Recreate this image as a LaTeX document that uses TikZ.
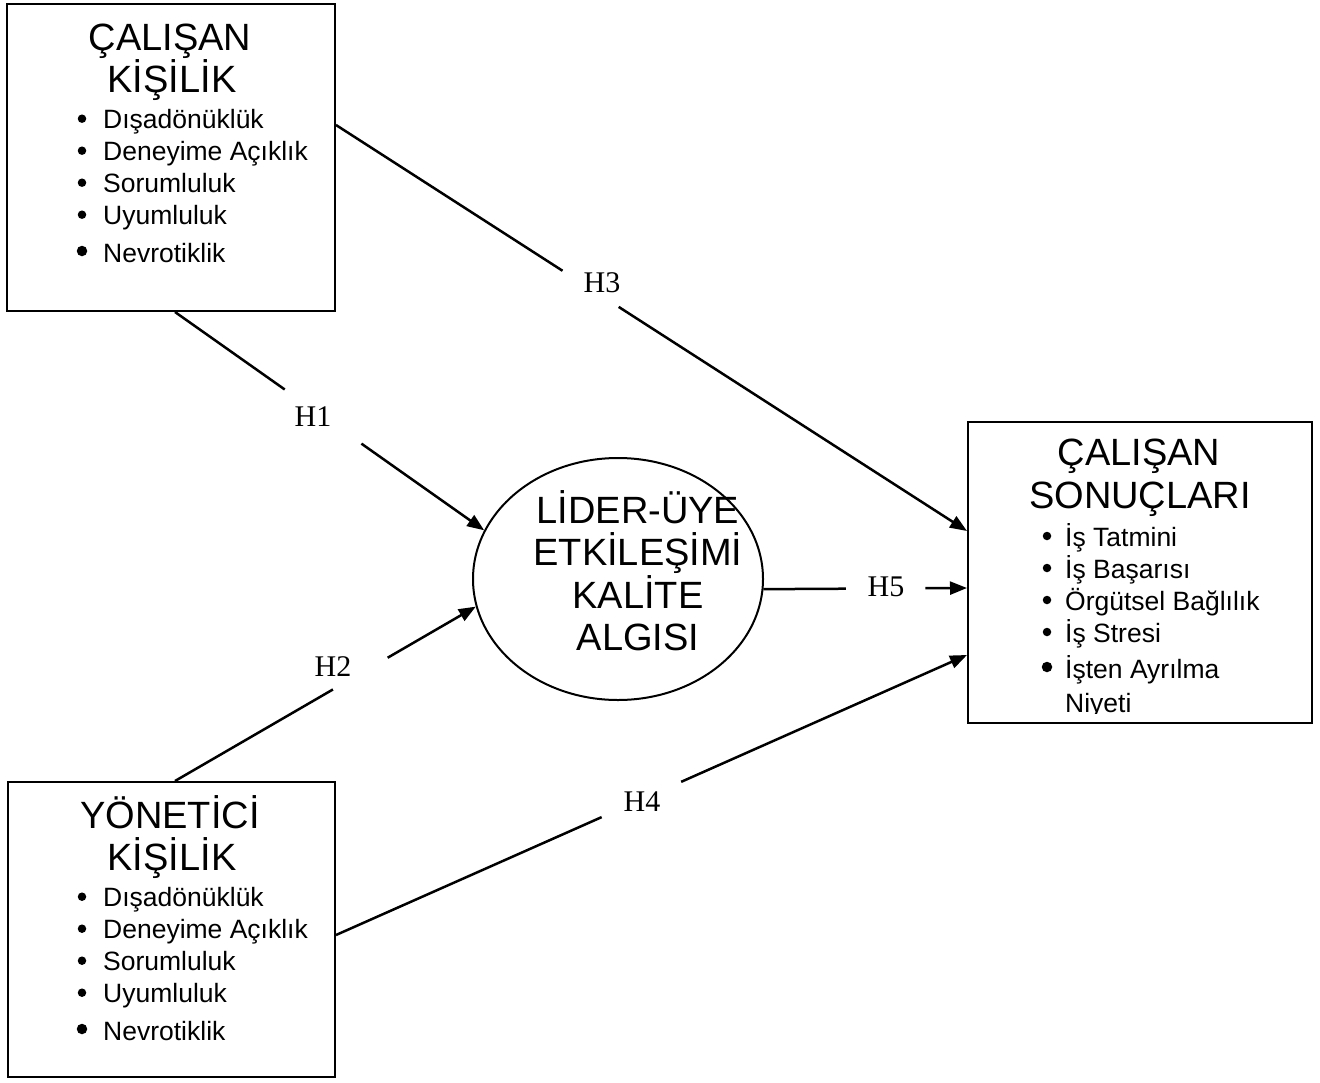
\documentclass[tikz,border=0pt]{standalone}
\usepackage{fontspec}
\setmainfont{Liberation Serif}
\newfontfamily\arial{Liberation Sans}
\usetikzlibrary{arrows.meta,calc,shapes.geometric}
\begin{document}
\begin{tikzpicture}[x=1pt,y=-1pt,
  box/.style={draw, line width=2pt, inner sep=0pt},
  oval/.style={draw, ellipse, line width=2pt, inner sep=0pt},
  ttl/.style={font=\arial\fontsize{38}{42}\selectfont, anchor=base, inner sep=0pt},
  itm/.style={font=\arial\fontsize{26.5}{32}\selectfont, anchor=base west, inner sep=0pt},
  bul/.style={circle, fill, inner sep=0pt, minimum size=8.5pt},
  bigbul/.style={circle, fill, inner sep=0pt, minimum size=10.5pt},
  hyp/.style={font=\fontsize{30}{36}\selectfont, inner sep=0pt},
  link/.style={line width=2.5pt},
  arr/.style={line width=2.5pt, -{Triangle[length=17pt,width=13pt]}}]
\useasboundingbox (0,0) rectangle (1320,1082);

% frames
\node[box, minimum width=328pt, minimum height=307pt] (ck) at (171,157.5) {};
\node[box, minimum width=327pt, minimum height=295pt] (yk) at (171.5,929.5) {};
\node[box, minimum width=344pt, minimum height=301pt] (cs) at (1140,572.5) {};
\node[oval, minimum width=290pt, minimum height=242pt] (lu) at (618,579) {};

% employee personality
\node[ttl] (ck1) at (170,50) {ÇALIŞAN};
\node[ttl] (ck2) at (172,92) {KİŞİLİK};
\node[bul] (ckb1) at (82,118.7) {};
\node[itm] (cki1) at (103,128) {Dışadönüklük};
\node[bul] (ckb2) at (82,150.7) {};
\node[itm] (cki2) at (103,160) {Deneyime Açıklık};
\node[bul] (ckb3) at (82,182.7) {};
\node[itm] (cki3) at (103,192) {Sorumluluk};
\node[bul] (ckb4) at (82,214.7) {};
\node[itm] (cki4) at (103,224) {Uyumluluk};
\node[bigbul] (ckb5) at (82,251) {};
\node[itm] (cki5) at (103,262) {Nevrotiklik};

% manager personality
\node[ttl] (yk1) at (170,828) {YÖNETİCİ};
\node[ttl] (yk2) at (172,870) {KİŞİLİK};
\node[bul] (ykb1) at (82,896.7) {};
\node[itm] (yki1) at (103,906) {Dışadönüklük};
\node[bul] (ykb2) at (82,928.7) {};
\node[itm] (yki2) at (103,938) {Deneyime Açıklık};
\node[bul] (ykb3) at (82,960.7) {};
\node[itm] (yki3) at (103,970) {Sorumluluk};
\node[bul] (ykb4) at (82,992.7) {};
\node[itm] (yki4) at (103,1002) {Uyumluluk};
\node[bigbul] (ykb5) at (82,1029) {};
\node[itm] (yki5) at (103,1040) {Nevrotiklik};

% employee outcomes
\node[ttl] (cs1) at (1139,465) {ÇALIŞAN};
\node[ttl] (cs2) at (1140,508) {SONUÇLARI};
\node[bul] (csb1) at (1047,536) {};
\node[itm] (csi1) at (1065,546) {İş Tatmini};
\node[bul] (csb2) at (1047,568) {};
\node[itm] (csi2) at (1065,578) {İş Başarısı};
\node[bul] (csb3) at (1047,600) {};
\node[itm] (csi3) at (1065,610) {Örgütsel Bağlılık};
\node[bul] (csb4) at (1047,632) {};
\node[itm] (csi4) at (1065,642) {İş Stresi};
\node[bigbul] (csb5) at (1047,667) {};
\node[itm] (csi5) at (1065,678) {İşten Ayrılma};
\begin{scope}
  \clip (1000,690) rectangle (1300,713.5);
  \node[itm] (csi6) at (1065,712) {Niyeti};
\end{scope}

% leader-member exchange
\node[ttl] (lu1) at (638,523) {LİDER-ÜYE};
\node[ttl] (lu2) at (638,565) {ETKİLEŞİMİ};
\node[ttl] (lu3) at (638,608) {KALİTE};
\node[ttl] (lu4) at (638,650) {ALGISI};

% hypothesis labels
\node[hyp] (h1) at (313,417) {H1};
\node[hyp] (h2) at (333,667) {H2};
\node[hyp] (h3) at (602,283) {H3};
\node[hyp] (h4) at (642,802) {H4};
\node[hyp] (h5) at (886,587) {H5};

% connector end points
\coordinate (h1a) at ([xshift=4pt]ck.south);
\coordinate (h1b) at (lu.160);
\coordinate (h2a) at ([xshift=3.5pt]yk.north);
\coordinate (h2b) at (lu.191);
\coordinate (h3a) at ([yshift=32.5pt]ck.east);
\coordinate (h3b) at ([yshift=41.5pt]cs.west);
\coordinate (h4a) at ([yshift=-5.5pt]yk.east);
\coordinate (h4b) at ([yshift=-82.5pt]cs.west);
\coordinate (h5a) at (lu.356.45);
\coordinate (h5b) at ([yshift=-15.5pt]cs.west);

% connectors, broken where the labels sit
\draw[link] (h1a) -- ($(h1a)!0.355!(h1b)$);
\draw[arr] ($(h1a)!0.603!(h1b)$) -- (h1b);
\draw[link] (h2a) -- ($(h2a)!0.525!(h2b)$);
\draw[arr] ($(h2a)!0.707!(h2b)$) -- (h2b);
\draw[link] (h3a) -- ($(h3a)!0.359!(h3b)$);
\draw[arr] ($(h3a)!0.448!(h3b)$) -- (h3b);
\draw[link] (h4a) -- ($(h4a)!0.421!(h4b)$);
\draw[arr] ($(h4a)!0.547!(h4b)$) -- (h4b);
\draw[link] (h5a) -- ($(h5a)!0.405!(h5b)$);
\draw[arr] ($(h5a)!0.795!(h5b)$) -- (h5b);
\end{tikzpicture}
\end{document}
